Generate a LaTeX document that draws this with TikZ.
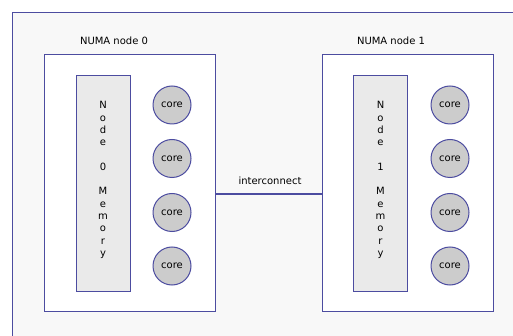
\documentclass[tikz,border=0pt]{standalone}
\usepackage{fontspec}
\setmainfont{DejaVu Sans}
\definecolor{edge}{RGB}{76,76,160}
\definecolor{bgframe}{RGB}{248,248,248}
\definecolor{memfill}{RGB}{234,234,234}
\definecolor{corefill}{RGB}{204,204,204}
\begin{document}
\begin{tikzpicture}[x=1pt,y=-1pt,
  numabox/.style={draw=edge, fill=white, line width=1pt, minimum width=171pt, minimum height=256pt, inner sep=0pt},
  membox/.style={draw=edge, fill=memfill, line width=1pt, minimum width=54pt, minimum height=215pt, inner sep=0pt},
  memtext/.style={align=center, font=\fontsize{10}{12.3}\selectfont},
  corenode/.style={circle, draw=edge, fill=corefill, line width=1pt, minimum size=38pt, inner sep=0pt, font=\fontsize{10}{12}\selectfont},
  lbl/.style={font=\fontsize{10}{12}\selectfont, inner sep=0pt},
  link/.style={draw=edge, line width=1.5pt}]
\useasboundingbox (0,0) rectangle (513,336);
\fill[white] (0,0) rectangle (513,336);
\begin{scope}
\clip (0,0) rectangle (513,336);
\draw[draw=edge, fill=bgframe, line width=1.8pt] (12.5,12.5) rectangle (540,360);
\end{scope}
% NUMA node 0
\node[numabox] (n0) at (129.5,183) {};
\node[lbl] (l0) at (114,41) {NUMA node 0};
\node[membox] (m0) at (103,183.5) {};
\node[memtext] (t0) at (103,180) {N\\o\\d\\e\\ \\0\\ \\M\\e\\m\\o\\r\\y};
\node[corenode] (c01) at (172,105) {core};
\node[corenode] (c02) at (172,158.5) {core};
\node[corenode] (c03) at (172,212.5) {core};
\node[corenode] (c04) at (172,266) {core};
% NUMA node 1
\node[numabox] (n1) at (407.5,183) {};
\node[lbl] (l1) at (391,41) {NUMA node 1};
\node[membox] (m1) at (380.5,183.5) {};
\node[memtext] (t1) at (380.5,180) {N\\o\\d\\e\\ \\1\\ \\M\\e\\m\\o\\r\\y};
\node[corenode] (c11) at (450,105) {core};
\node[corenode] (c12) at (450,158.5) {core};
\node[corenode] (c13) at (450,212.5) {core};
\node[corenode] (c14) at (450,266) {core};
% interconnect
\coordinate (a) at (n0.east |- 0,194);
\coordinate (b) at (n1.west |- 0,194);
\draw[link] (a) -- (b);
\node[lbl] (il) at (270,181) {interconnect};
\end{tikzpicture}
\end{document}
